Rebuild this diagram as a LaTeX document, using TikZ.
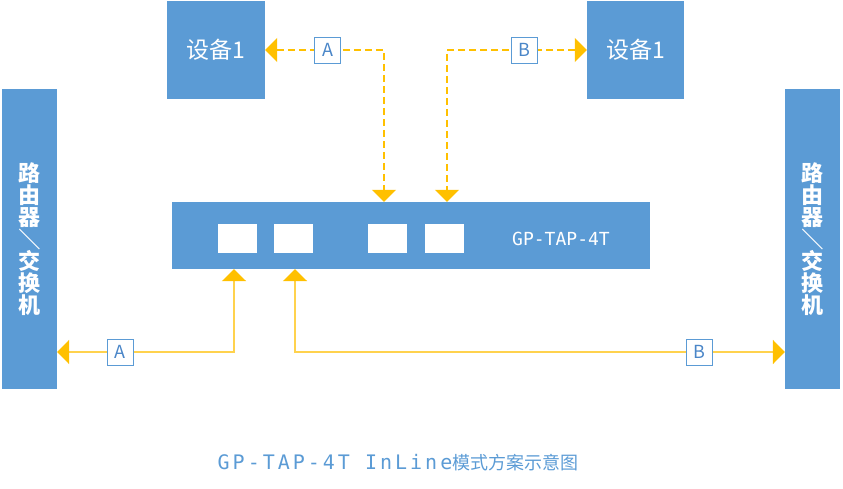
\documentclass[tikz,border=0pt]{standalone}
\usepackage{fontspec}
\usepackage{graphicx}
\usetikzlibrary{arrows.meta}
\setmainfont{Noto Sans CJK SC}
\newfontfamily\monofont[LetterSpace=15]{DejaVu Sans Mono}
\newfontfamily\tapfont{DejaVu Sans Mono}
\definecolor{boxblue}{HTML}{5B9BD5}
\definecolor{tipyellow}{HTML}{FFC000}
\definecolor{lineyellow}{HTML}{FFD24D}
\definecolor{lblblue}{HTML}{4A86C8}
\newcommand{\vslash}{\rotatebox[origin=c]{-90}{／}}
\begin{document}
\begin{tikzpicture}[x=1pt, y=-1pt,
    >={Triangle[length=12pt, width=24pt, color=tipyellow]},
    blk/.style={fill=boxblue, draw=none, inner sep=0pt, text=white},
    router/.style={blk, minimum width=55pt, minimum height=300pt,
                   align=center, font=\bfseries\fontsize{22}{22}\selectfont},
    port/.style={fill=white, draw=none, inner sep=0pt,
                 minimum width=39pt, minimum height=29pt},
    lbl/.style={fill=white, draw=boxblue, line width=0.8pt, inner sep=0pt,
                minimum width=26pt, minimum height=26pt, text=lblblue,
                font=\fontsize{18}{18}\selectfont},
    dashln/.style={<->, draw=tipyellow, line width=1.4pt,
                   dash pattern=on 7pt off 4pt},
    solidln/.style={<->, draw=lineyellow, line width=2pt}
]
\useasboundingbox (0,0) rectangle (843,489);
% routers / switches
\node[router] (routerL) at (29.5,239) {路\\由\\器\\\vslash\\交\\换\\机};
\node[router] (routerR) at (812.5,239) {路\\由\\器\\\vslash\\交\\换\\机};
% devices
\node[blk, minimum width=98pt, minimum height=98pt,
      font=\fontsize{23}{23}\selectfont] (devL) at (216,50) {设备1};
\node[blk, minimum width=97pt, minimum height=98pt,
      font=\fontsize{23}{23}\selectfont] (devR) at (635.5,50) {设备1};
% TAP
\node[blk, minimum width=478pt, minimum height=67pt] (tap) at (411,235.5) {};
\node[text=white, font=\tapfont\fontsize{18}{18}\selectfont]
      (tapname) at (561,239) {GP-TAP-4T};
\node[port] (p1) at (237.5,238.5) {};
\node[port] (p2) at (293.5,238.5) {};
\node[port] (p3) at (387.5,238.5) {};
\node[port] (p4) at (444.5,238.5) {};
% bends
\coordinate (ta) at (384,50);
\coordinate (tb) at (447,50);
\coordinate (ba) at (234,352);
\coordinate (bb) at (295,352);
% connectors
\draw[dashln] (devL.east) -- (ta) -- (ta |- tap.north);
\draw[dashln] (devR.west) -- (tb) -- (tb |- tap.north);
\draw[solidln] (routerL.east |- ba) -- (ba) -- (ba |- tap.south);
\draw[solidln] (routerR.west |- bb) -- (bb) -- (bb |- tap.south);
% labels
\node[lbl] (la1) at (327.5,50) {A};
\node[lbl] (lb1) at (524,50) {B};
\node[lbl] (la2) at (120,352) {A};
\node[lbl] (lb2) at (699,352) {B};
% caption
\node[text=boxblue, inner sep=0pt] (caption) at (398,463)
      {{\monofont\fontsize{20}{20}\selectfont GP-TAP-4T InLine}{\fontsize{18}{18}\selectfont 模式方案示意图}};
\end{tikzpicture}
\end{document}
